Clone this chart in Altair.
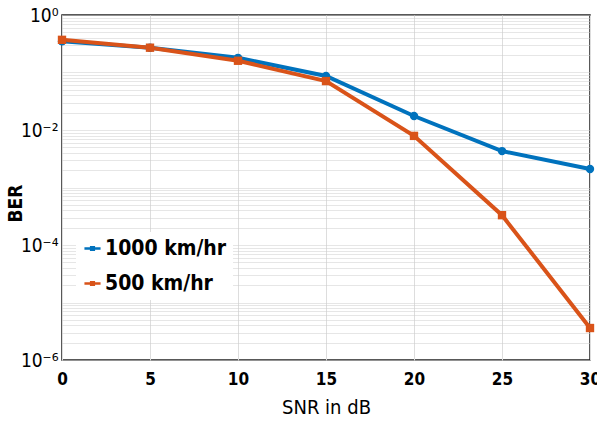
import altair as alt
import pandas as pd

snr = [0, 5, 10, 15, 20, 25, 30]
ber_1000 = [0.35, 0.27, 0.18, 0.087, 0.0175, 0.0043, 0.0021]
ber_500 = [0.37, 0.27, 0.16, 0.071, 0.0079, 0.00033, 0.0000036]
series_names = ["1000 km/hr", "500 km/hr"]
series_colors = ["#0072BD", "#D95319"]

rows = []
for s, b in zip(snr, ber_1000):
    rows.append({"SNR": s, "BER": b, "series": series_names[0]})
for s, b in zip(snr, ber_500):
    rows.append({"SNR": s, "BER": b, "series": series_names[1]})
df = pd.DataFrame(rows)

yvals = []
for k in range(-6, 0):
    for m in range(1, 10):
        yvals.append(float(f"{m}e{k}"))
yvals.append(1.0)

FONT = "DejaVu Sans Condensed, Liberation Sans Narrow, Arial Narrow, Liberation Sans, Arial"

label_expr = (
    "abs(log(datum.value)/LN10 - round(log(datum.value)/LN10)) > 0.001 ? '' : "
    "round(log(datum.value)/LN10) == 0 ? '10⁰' : "
    "round(log(datum.value)/LN10) == -2 ? '10⁻²' : "
    "round(log(datum.value)/LN10) == -4 ? '10⁻⁴' : "
    "round(log(datum.value)/LN10) == -6 ? '10⁻⁶' : ''"
)

color = alt.Color(
    "series:N",
    scale=alt.Scale(domain=series_names, range=series_colors),
    legend=alt.Legend(
        title=None,
        orient="none",
        legendX=14,
        legendY=217,
        symbolType="M-1,-0.16H1V0.16H-1Z M-0.32,-0.32H0.32V0.32H-0.32Z",
        symbolSize=260,
        symbolStrokeWidth=0,
        labelFont=FONT,
        labelFontSize=21,
        labelFontWeight="bold",
        labelColor="black",
        labelOffset=2,
        fillColor="white",
        padding=6,
        rowPadding=13,
        cornerRadius=0,
    ),
)

x = alt.X(
    "SNR:Q",
    scale=alt.Scale(domain=[0, 30], nice=False),
    axis=alt.Axis(
        values=snr,
        title="SNR in dB",
        titleFont=FONT,
        titleFontSize=20,
        titleFontWeight="normal",
        titleColor="black",
        titlePadding=10,
        labelFont=FONT,
        labelFontSize=17,
        labelFontWeight="bold",
        labelColor="black",
        labelPadding=11,
        labelFlush=False,
        tickSize=0,
        domain=False,
        gridColor="#dddddd",
        gridWidth=1,
    ),
)

y = alt.Y(
    "BER:Q",
    scale=alt.Scale(type="log", domain=[1e-6, 1], nice=False),
    axis=alt.Axis(
        values=yvals,
        labelExpr=label_expr,
        title="BER",
        titleFont=FONT,
        titleFontSize=19,
        titleFontWeight="bold",
        titleColor="black",
        titleX=-37,
        titleY=188,
        titleAngle=270,
        titleAlign="center",
        titleBaseline="bottom",
        labelFont=FONT,
        labelFontSize=19,
        labelFontWeight="normal",
        labelColor="black",
        labelPadding=4,
        labelFlush=False,
        tickSize=0,
        domain=False,
        gridColor="#cccccc",
        gridDash=[1, 1],
        gridWidth=1,
    ),
)

base = alt.Chart(df)
lines = base.mark_line(strokeWidth=4).encode(x=x, y=y, color=color)
pts_blue = base.transform_filter(alt.datum.series == series_names[0]).mark_point(
    shape="circle", filled=True, size=70, opacity=1
).encode(x="SNR:Q", y="BER:Q", color=alt.Color("series:N", scale=alt.Scale(domain=series_names, range=series_colors), legend=None))
pts_orange = base.transform_filter(alt.datum.series == series_names[1]).mark_point(
    shape="square", filled=True, size=70, opacity=1
).encode(x="SNR:Q", y="BER:Q", color=alt.Color("series:N", scale=alt.Scale(domain=series_names, range=series_colors), legend=None))

chart = (
    alt.layer(lines, pts_blue, pts_orange)
    .properties(
        width=528,
        height=345,
        autosize=alt.AutoSizeParams(type="none"),
        padding={"left": 62, "top": 15, "right": 7, "bottom": 68},
        background="white",
    )
    .configure_view(stroke="#222222", strokeWidth=1.5)
)

chart.save("out.html", embed_options={"renderer": "svg", "actions": False})
